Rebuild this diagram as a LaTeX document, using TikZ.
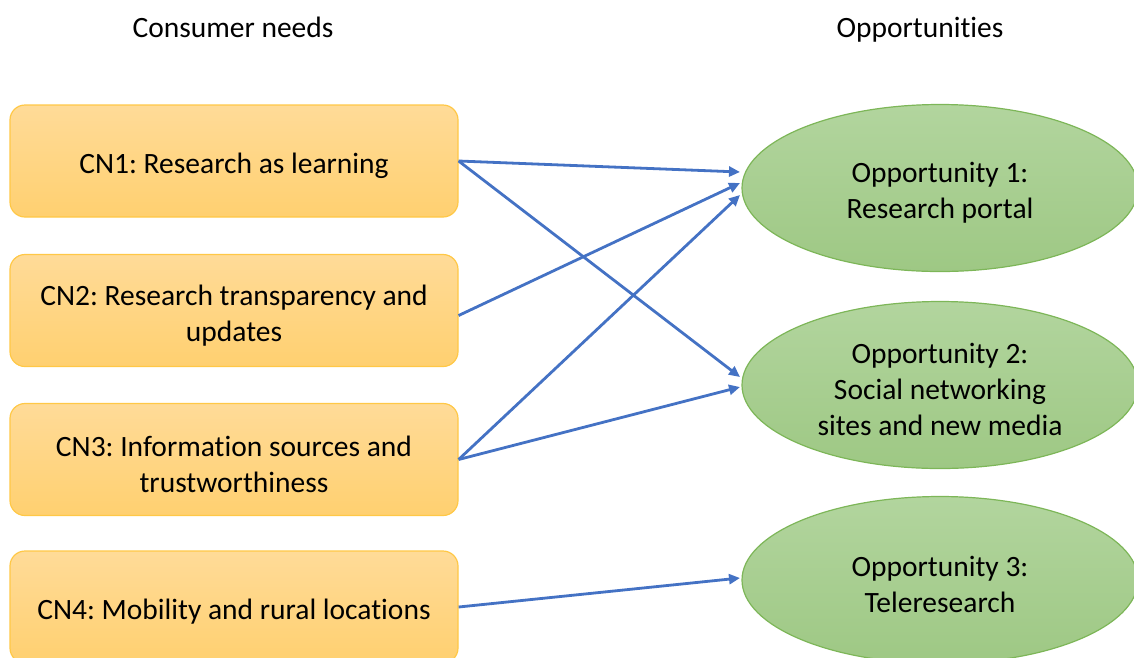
\documentclass[tikz,border=0pt]{standalone}
\usepackage{fontspec}
\setmainfont[Ligatures=CommonOff]{Carlito}
\frenchspacing
\usetikzlibrary{shapes.geometric,arrows.meta,calc}
\definecolor{boxtop}{RGB}{255,219,152}
\definecolor{boxbot}{RGB}{255,208,112}
\definecolor{boxline}{RGB}{255,200,70}
\definecolor{elltop}{RGB}{178,213,158}
\definecolor{ellbot}{RGB}{158,200,132}
\definecolor{ellline}{RGB}{125,182,88}
\definecolor{arrowblue}{RGB}{68,114,196}
\newcommand\toppad{\rule{0pt}{30pt}}
\tikzset{
  needbox/.style={draw=boxline, line width=1.2pt, top color=boxtop, bottom color=boxbot,
    rounded corners=15pt, minimum width=448pt, minimum height=112pt, inner sep=0pt,
    align=center, font=\fontsize{29.5}{36}\selectfont},
  oppell/.style={ellipse, draw=ellline, line width=1.2pt, top color=elltop, bottom color=ellbot,
    minimum width=396pt, minimum height=167pt, inner sep=0pt,
    align=center, font=\fontsize{29.5}{36}\selectfont},
  header/.style={font=\fontsize{29.5}{36}\selectfont, inner sep=0pt, anchor=base},
  link/.style={draw=arrowblue, line width=2.8pt, -{Triangle[length=11pt,width=10pt]}}
}
\begin{document}
\begin{tikzpicture}[x=1pt,y=-1pt]
\useasboundingbox (0,0) rectangle (1134,657);
\clip (0,0) rectangle (1134,657);
\node[header] (hdrL) at (233,37) {Consumer needs};
\node[header] (hdrR) at (920,37) {Opportunities};

\node[needbox] (cn1) at (234,161) {\toppad CN1: Research as learning};
\node[needbox] (cn2) at (234,310.5) {\toppad CN2: Research transparency and\\updates};
\node[needbox] (cn3) at (234,459.5) {\toppad CN3: Information sources and\\trustworthiness};
\node[needbox] (cn4) at (234,607) {\toppad CN4: Mobility and rural locations};

\node[oppell] (o1) at (940,188) {\toppad Opportunity 1:\\Research portal};
\node[oppell] (o2) at (940,385) {\toppad Opportunity 2:\\Social networking\\sites and new media};
\node[oppell] (o3) at (940,580) {\toppad Opportunity 3:\\Teleresearch};

\draw[link] (cn1.east) -- ($(o1.center)+(-200,-16)$);
\draw[link] (cn1.east) -- ($(o2.center)+(-200,-8)$);
\draw[link] ([yshift=-5pt]cn2.east) -- ($(o1.center)+(-200,-5)$);
\draw[link] (cn3.east) -- ($(o1.center)+(-200,7)$);
\draw[link] (cn3.east) -- ($(o2.center)+(-200,2)$);
\draw[link] (cn4.east) -- ($(o3.center)+(-200,-2)$);
\end{tikzpicture}
\end{document}
